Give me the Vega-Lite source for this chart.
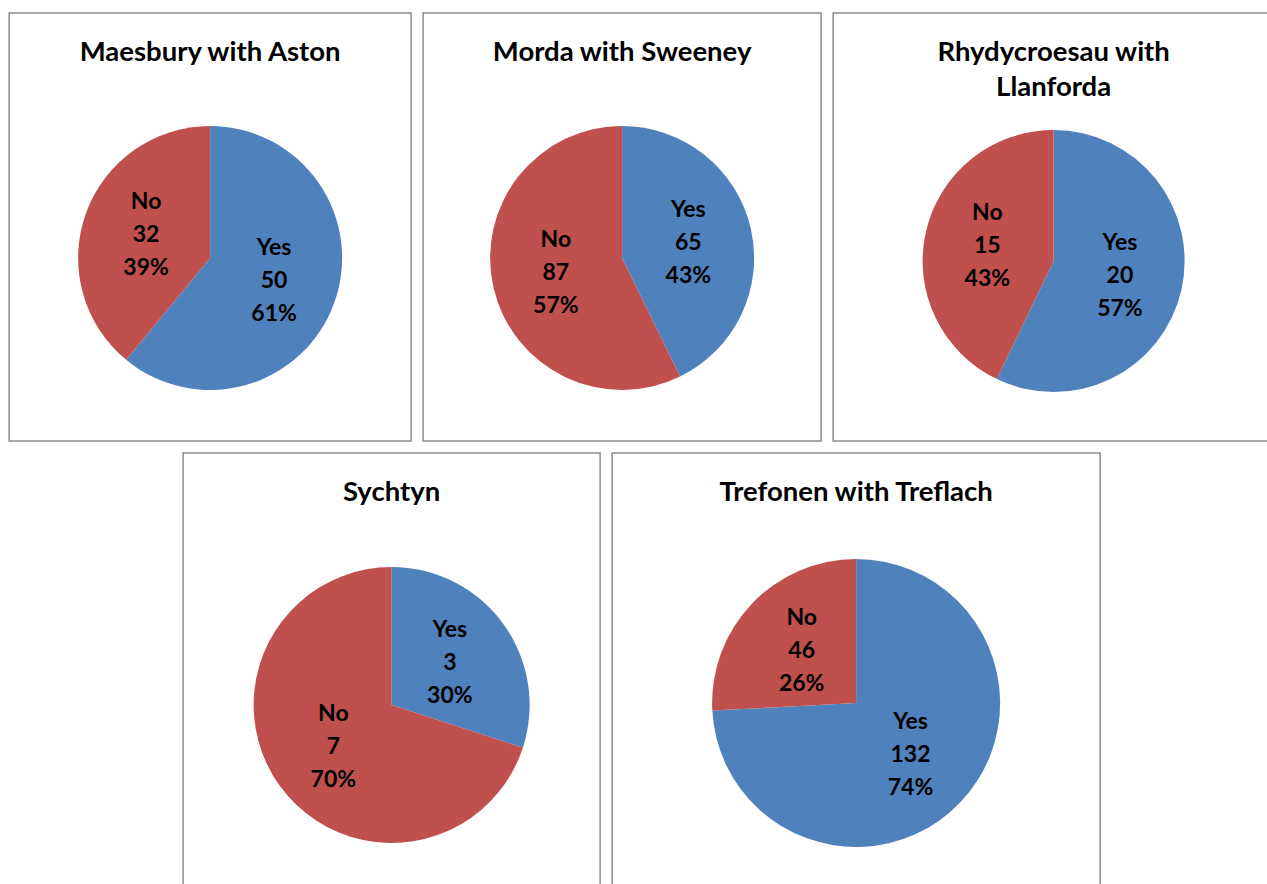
{
  "$schema": "https://vega.github.io/schema/vega-lite/v6.json",
  "padding": {"left": 8, "top": 12, "right": 0, "bottom": 0},
  "background": "white",
  "datasets": {
    "votes": [
      {"place": "Maesbury with Aston", "answer": "Yes", "count": 50, "pct": "61%"},
      {"place": "Maesbury with Aston", "answer": "No", "count": 32, "pct": "39%"},
      {"place": "Morda with Sweeney", "answer": "Yes", "count": 65, "pct": "43%"},
      {"place": "Morda with Sweeney", "answer": "No", "count": 87, "pct": "57%"},
      {"place": "Rhydycroesau with Llanforda", "answer": "Yes", "count": 20, "pct": "57%"},
      {"place": "Rhydycroesau with Llanforda", "answer": "No", "count": 15, "pct": "43%"},
      {"place": "Sychtyn", "answer": "Yes", "count": 3, "pct": "30%"},
      {"place": "Sychtyn", "answer": "No", "count": 7, "pct": "70%"},
      {"place": "Trefonen with Treflach", "answer": "Yes", "count": 132, "pct": "74%"},
      {"place": "Trefonen with Treflach", "answer": "No", "count": 46, "pct": "26%"}
    ]
  },
  "data": {"name": "votes"},
  "spacing": 10,
  "center": true,
  "vconcat": [
    {
      "spacing": 10,
      "hconcat": [
        {
          "width": 402, "height": 428,
          "view": {"stroke": "#8c8c8c", "strokeWidth": 1.5},
          "title": {"text": "Maesbury with Aston"},
          "transform": [
            {"filter": "datum.place === 'Maesbury with Aston'"},
            {"calculate": "[datum.answer, datum.count, datum.pct]", "as": "label"}
          ],
          "encoding": {
            "theta": {"field": "count", "type": "quantitative", "stack": true},
            "order": {"field": "answer", "sort": "descending"},
            "color": {"field": "answer", "type": "nominal", "scale": {"domain": ["Yes", "No"], "range": ["#4F81BD", "#C0504D"]}, "legend": null}
          },
          "layer": [
            {"mark": {"type": "arc", "outerRadius": 132, "yOffset": 31}},
            {"mark": {"type": "text", "radius": 68, "yOffset": 31, "dy": -33, "font": "Lato", "fontSize": 23, "fontWeight": "bold", "lineHeight": 33}, "encoding": {"text": {"field": "label"}, "color": {"value": "black"}}}
          ]
        },
        {
          "width": 398, "height": 428,
          "view": {"stroke": "#8c8c8c", "strokeWidth": 1.5},
          "title": {"text": "Morda with Sweeney"},
          "transform": [
            {"filter": "datum.place === 'Morda with Sweeney'"},
            {"calculate": "[datum.answer, datum.count, datum.pct]", "as": "label"}
          ],
          "encoding": {
            "theta": {"field": "count", "type": "quantitative", "stack": true},
            "order": {"field": "answer", "sort": "descending"},
            "color": {"field": "answer", "type": "nominal", "scale": {"domain": ["Yes", "No"], "range": ["#4F81BD", "#C0504D"]}, "legend": null}
          },
          "layer": [
            {"mark": {"type": "arc", "outerRadius": 132, "yOffset": 31}},
            {"mark": {"type": "text", "radius": 68, "yOffset": 31, "dy": -33, "font": "Lato", "fontSize": 23, "fontWeight": "bold", "lineHeight": 33}, "encoding": {"text": {"field": "label"}, "color": {"value": "black"}}}
          ]
        },
        {
          "width": 441, "height": 428,
          "view": {"stroke": "#8c8c8c", "strokeWidth": 1.5},
          "title": {"text": ["Rhydycroesau with", "Llanforda"], "lineHeight": 35, "offset": -88},
          "transform": [
            {"filter": "datum.place === 'Rhydycroesau with Llanforda'"},
            {"calculate": "[datum.answer, datum.count, datum.pct]", "as": "label"}
          ],
          "encoding": {
            "theta": {"field": "count", "type": "quantitative", "stack": true},
            "order": {"field": "answer", "sort": "descending"},
            "color": {"field": "answer", "type": "nominal", "scale": {"domain": ["Yes", "No"], "range": ["#4F81BD", "#C0504D"]}, "legend": null}
          },
          "layer": [
            {"mark": {"type": "arc", "outerRadius": 131, "yOffset": 34}},
            {"mark": {"type": "text", "radius": 68, "yOffset": 34, "dy": -33, "font": "Lato", "fontSize": 23, "fontWeight": "bold", "lineHeight": 33}, "encoding": {"text": {"field": "label"}, "color": {"value": "black"}}}
          ]
        }
      ]
    },
    {
      "spacing": 10,
      "hconcat": [
        {
          "width": 417, "height": 440,
          "view": {"stroke": "#8c8c8c", "strokeWidth": 1.5},
          "title": {"text": "Sychtyn"},
          "transform": [
            {"filter": "datum.place === 'Sychtyn'"},
            {"calculate": "[datum.answer, datum.count, datum.pct]", "as": "label"}
          ],
          "encoding": {
            "theta": {"field": "count", "type": "quantitative", "stack": true},
            "order": {"field": "answer", "sort": "descending"},
            "color": {"field": "answer", "type": "nominal", "scale": {"domain": ["Yes", "No"], "range": ["#4F81BD", "#C0504D"]}, "legend": null}
          },
          "layer": [
            {"mark": {"type": "arc", "outerRadius": 138, "yOffset": 32}},
            {"mark": {"type": "text", "radius": 72, "yOffset": 32, "dy": -33, "font": "Lato", "fontSize": 23, "fontWeight": "bold", "lineHeight": 33}, "encoding": {"text": {"field": "label"}, "color": {"value": "black"}}}
          ]
        },
        {
          "width": 488, "height": 440,
          "view": {"stroke": "#8c8c8c", "strokeWidth": 1.5},
          "title": {"text": "Trefonen with Treflach"},
          "transform": [
            {"filter": "datum.place === 'Trefonen with Treflach'"},
            {"calculate": "[datum.answer, datum.count, datum.pct]", "as": "label"}
          ],
          "encoding": {
            "theta": {"field": "count", "type": "quantitative", "stack": true},
            "order": {"field": "answer", "sort": "descending"},
            "color": {"field": "answer", "type": "nominal", "scale": {"domain": ["Yes", "No"], "range": ["#4F81BD", "#C0504D"]}, "legend": null}
          },
          "layer": [
            {"mark": {"type": "arc", "outerRadius": 144, "yOffset": 30}},
            {"mark": {"type": "text", "radius": 75, "yOffset": 30, "dy": -33, "font": "Lato", "fontSize": 23, "fontWeight": "bold", "lineHeight": 33}, "encoding": {"text": {"field": "label"}, "color": {"value": "black"}}}
          ]
        }
      ]
    }
  ],
  "config": {
    "view": {"stroke": "#8c8c8c", "strokeWidth": 1.5},
    "title": {"font": "Lato", "fontSize": 27.5, "fontWeight": "bold", "color": "black", "offset": -53, "anchor": "middle", "frame": "group"}
  }
}
